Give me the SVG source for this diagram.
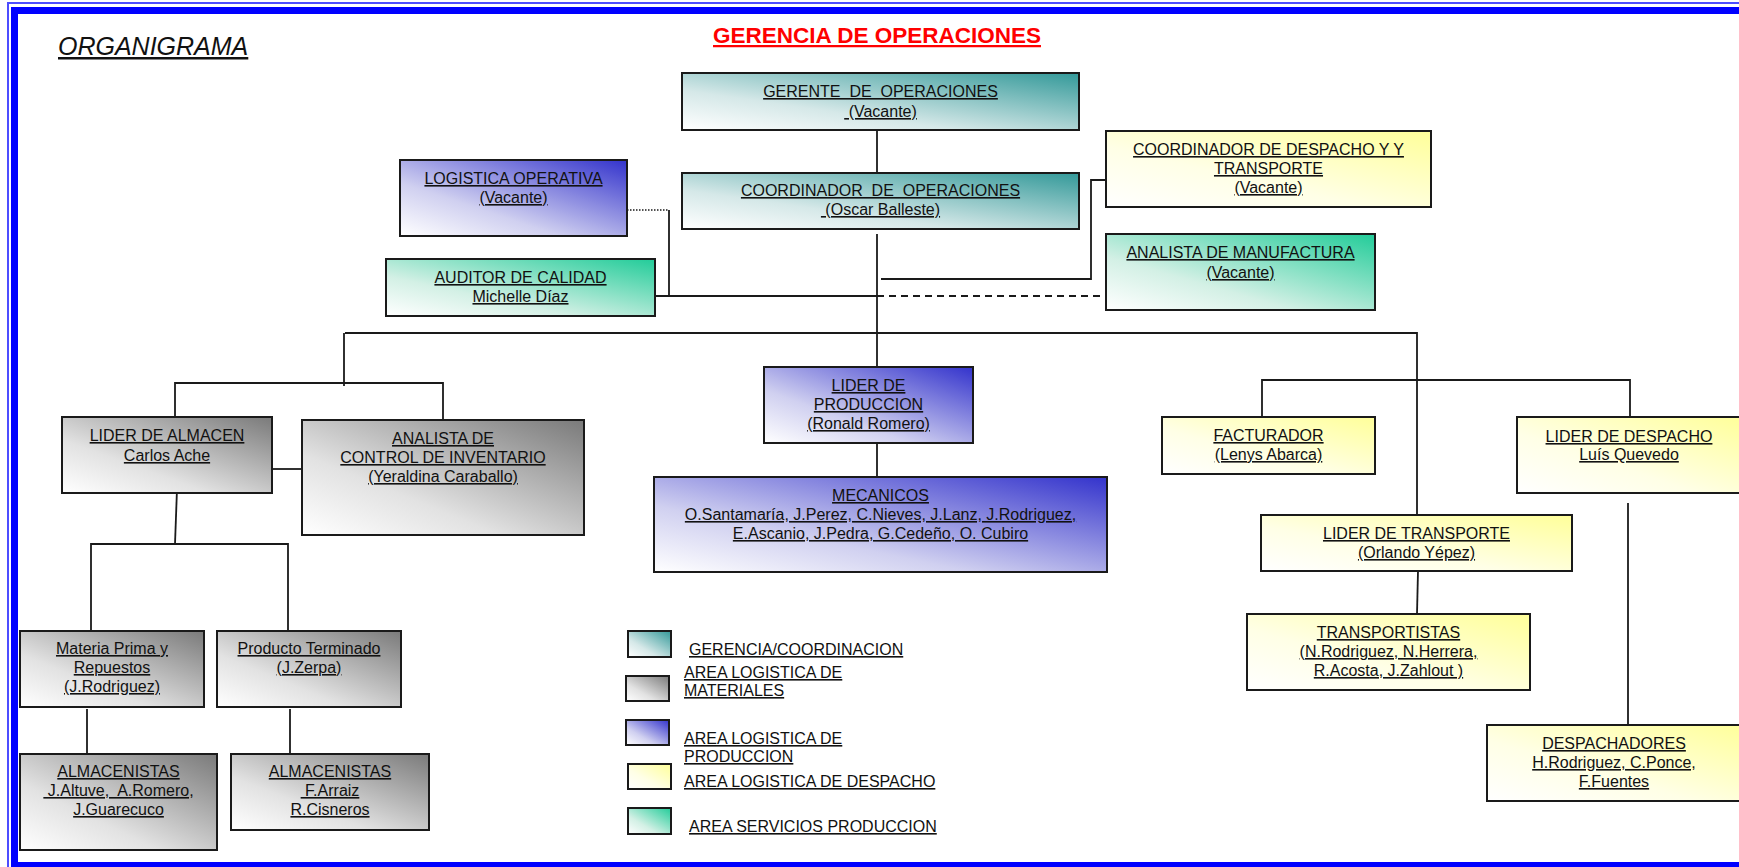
<svg xmlns="http://www.w3.org/2000/svg" width="1739" height="867" viewBox="0 0 1739 867" xml:space="preserve">
<defs>
<linearGradient id="gTeal" x1="0" y1="1" x2="1" y2="0"><stop offset="0" stop-color="#ffffff"/><stop offset="0.35" stop-color="#d5e8e8"/><stop offset="1" stop-color="#339999"/></linearGradient>
<linearGradient id="gGray" x1="0" y1="1" x2="1" y2="0"><stop offset="0" stop-color="#ffffff"/><stop offset="0.35" stop-color="#e2e2e2"/><stop offset="1" stop-color="#7a7a7a"/></linearGradient>
<linearGradient id="gBlue" x1="0" y1="1" x2="1" y2="0"><stop offset="0" stop-color="#ffffff"/><stop offset="0.35" stop-color="#d0d0f0"/><stop offset="1" stop-color="#3333cc"/></linearGradient>
<linearGradient id="gYel" x1="0" y1="1" x2="1" y2="0"><stop offset="0" stop-color="#ffffff"/><stop offset="0.4" stop-color="#ffffe6"/><stop offset="1" stop-color="#ffff99"/></linearGradient>
<linearGradient id="gGrn" x1="0" y1="1" x2="1" y2="0"><stop offset="0" stop-color="#ffffff"/><stop offset="0.35" stop-color="#d3f0e5"/><stop offset="1" stop-color="#22cc99"/></linearGradient>
</defs>
<style>
.box{stroke:#1a1a1a;stroke-width:2}
.teal{fill:url(#gTeal)} .gray{fill:url(#gGray)} .blue{fill:url(#gBlue)} .yel{fill:url(#gYel)} .grn{fill:url(#gGrn)}
.t{font-family:"Liberation Sans",Arial,sans-serif;font-size:16px;fill:#111;text-anchor:middle;text-decoration:underline;white-space:pre}
.lg{font-family:"Liberation Sans",Arial,sans-serif;font-size:16px;fill:#111;text-decoration:underline;white-space:pre}
.ln{stroke:#1a1a1a;stroke-width:1.8;fill:none}
.dash{stroke-dasharray:7 5}
.dot{stroke-dasharray:1.5 1.5;stroke-width:1.5}
</style>
<rect width="1739" height="867" fill="#ffffff"/>
<g id="frame" fill="none">
<rect x="8" y="3" width="1800" height="880" stroke="#4d4dff" stroke-width="2"/>
<rect x="14.5" y="10.5" width="1800" height="855" stroke="#0000ff" stroke-width="7"/>
</g>
<g id="titles">
<text x="58" y="55" font-family="Liberation Sans, Arial, sans-serif" font-size="25" font-style="italic" text-decoration="underline" fill="#111">ORGANIGRAMA</text>
<text x="877" y="43" font-family="Liberation Sans, Arial, sans-serif" font-size="22.5" font-weight="bold" text-anchor="middle" text-decoration="underline" fill="#ff0000">GERENCIA DE OPERACIONES</text>
</g>
<g id="connectors">
<path class="ln" d="M877 130V173"/>
<path class="ln" d="M877 234V367"/>
<path class="ln" d="M877 443V477"/>
<path class="ln dot" d="M627 210H669"/>
<path class="ln" d="M669 210V296"/>
<path class="ln" d="M655 296H877"/>
<path class="ln dash" d="M877 296H1106"/>
<path class="ln" d="M881 279H1091V180H1106"/>
<path class="ln" d="M345 333H1417V515"/>
<path class="ln" d="M344 333V386"/>
<path class="ln" d="M175 417V383H443V420"/>
<path class="ln" d="M272 469H302"/>
<path class="ln" d="M177 489L175 544"/>
<path class="ln" d="M91 631V544H288V631"/>
<path class="ln" d="M87 709V754"/>
<path class="ln" d="M290 709V754"/>
<path class="ln" d="M1262 417V380H1630V417"/>
<path class="ln" d="M1628 503V725"/>
<path class="ln" d="M1418 571L1417 614"/>
</g>
<g id="gerente"><rect class="box teal" x="682" y="73" width="397" height="57"/><text class="t" x="880.5" y="97">GERENTE  DE  OPERACIONES</text><text class="t" x="880.5" y="117"> (Vacante)</text></g>
<g id="coordinador"><rect class="box teal" x="682" y="173" width="397" height="56"/><text class="t" x="880.5" y="196">COORDINADOR  DE  OPERACIONES</text><text class="t" x="880.5" y="215"> (Oscar Balleste)</text></g>
<g id="logistica"><rect class="box blue" x="400" y="160" width="227" height="76"/><text class="t" x="513.5" y="184">LOGISTICA OPERATIVA</text><text class="t" x="513.5" y="203">(Vacante)</text></g>
<g id="auditor"><rect class="box grn" x="386" y="259" width="269" height="57"/><text class="t" x="520.5" y="283">AUDITOR DE CALIDAD</text><text class="t" x="520.5" y="302">Michelle Díaz</text></g>
<g id="coord-despacho"><rect class="box yel" x="1106" y="131" width="325" height="76"/><text class="t" x="1268.5" y="155">COORDINADOR DE DESPACHO Y Y</text><text class="t" x="1268.5" y="174">TRANSPORTE</text><text class="t" x="1268.5" y="193">(Vacante)</text></g>
<g id="analista-manufactura"><rect class="box grn" x="1106" y="234" width="269" height="76"/><text class="t" x="1240.5" y="258">ANALISTA DE MANUFACTURA</text><text class="t" x="1240.5" y="278">(Vacante)</text></g>
<g id="lider-almacen"><rect class="box gray" x="62" y="417" width="210" height="76"/><text class="t" x="167" y="441">LIDER DE ALMACEN</text><text class="t" x="167" y="461">Carlos Ache</text></g>
<g id="analista-inventario"><rect class="box gray" x="302" y="420" width="282" height="115"/><text class="t" x="443" y="444">ANALISTA DE</text><text class="t" x="443" y="463">CONTROL DE INVENTARIO</text><text class="t" x="443" y="482">(Yeraldina Caraballo)</text></g>
<g id="materia-prima"><rect class="box gray" x="20" y="631" width="184" height="76"/><text class="t" x="112" y="654">Materia Prima y</text><text class="t" x="112" y="673">Repuestos</text><text class="t" x="112" y="692">(J.Rodriguez)</text></g>
<g id="producto-terminado"><rect class="box gray" x="217" y="631" width="184" height="76"/><text class="t" x="309" y="654">Producto Terminado</text><text class="t" x="309" y="673">(J.Zerpa)</text></g>
<g id="almacenistas-1"><rect class="box gray" x="20" y="754" width="197" height="96"/><text class="t" x="118.5" y="777">ALMACENISTAS</text><text class="t" x="118.5" y="796"> J.Altuve,  A.Romero,</text><text class="t" x="118.5" y="815">J.Guarecuco</text></g>
<g id="almacenistas-2"><rect class="box gray" x="231" y="754" width="198" height="76"/><text class="t" x="330" y="777">ALMACENISTAS</text><text class="t" x="330" y="796"> F.Arraiz</text><text class="t" x="330" y="815">R.Cisneros</text></g>
<g id="lider-produccion"><rect class="box blue" x="764" y="367" width="209" height="76"/><text class="t" x="868.5" y="391">LIDER DE</text><text class="t" x="868.5" y="410">PRODUCCION</text><text class="t" x="868.5" y="429">(Ronald Romero)</text></g>
<g id="mecanicos"><rect class="box blue" x="654" y="477" width="453" height="95"/><text class="t" x="880.5" y="501">MECANICOS</text><text class="t" x="880.5" y="520">O.Santamaría, J.Perez, C.Nieves, J.Lanz, J.Rodriguez,</text><text class="t" x="880.5" y="539">E.Ascanio, J.Pedra, G.Cedeño, O. Cubiro</text></g>
<g id="facturador"><rect class="box yel" x="1162" y="417" width="213" height="57"/><text class="t" x="1268.5" y="441">FACTURADOR</text><text class="t" x="1268.5" y="460">(Lenys Abarca)</text></g>
<g id="lider-despacho"><rect class="box yel" x="1517" y="417" width="226" height="76"/><text class="t" x="1629" y="442">LIDER DE DESPACHO</text><text class="t" x="1629" y="460">Luís Quevedo</text></g>
<g id="lider-transporte"><rect class="box yel" x="1261" y="515" width="311" height="56"/><text class="t" x="1416.5" y="539">LIDER DE TRANSPORTE</text><text class="t" x="1416.5" y="558">(Orlando Yépez)</text></g>
<g id="transportistas"><rect class="box yel" x="1247" y="614" width="283" height="76"/><text class="t" x="1388.5" y="638">TRANSPORTISTAS</text><text class="t" x="1388.5" y="657">(N.Rodriguez, N.Herrera,</text><text class="t" x="1388.5" y="676">R.Acosta, J.Zahlout )</text></g>
<g id="despachadores"><rect class="box yel" x="1487" y="725" width="260" height="76"/><text class="t" x="1614" y="749">DESPACHADORES</text><text class="t" x="1614" y="768">H.Rodriguez, C.Ponce,</text><text class="t" x="1614" y="787">F.Fuentes</text></g>
<g id="legend">
<rect class="box teal" x="628" y="631" width="43" height="26" stroke-width="1.5"/><text class="lg" x="689" y="655">GERENCIA/COORDINACION</text>
<rect class="box gray" x="626" y="676" width="43" height="25" stroke-width="1.5"/><text class="lg" x="684" y="678">AREA LOGISTICA DE</text><text class="lg" x="684" y="696">MATERIALES</text>
<rect class="box blue" x="626" y="720" width="43" height="25" stroke-width="1.5"/><text class="lg" x="684" y="744">AREA LOGISTICA DE</text><text class="lg" x="684" y="762">PRODUCCION</text>
<rect class="box yel" x="628" y="764" width="43" height="25" stroke-width="1.5"/><text class="lg" x="684" y="787">AREA LOGISTICA DE DESPACHO</text>
<rect class="box grn" x="628" y="808" width="43" height="26" stroke-width="1.5"/><text class="lg" x="689" y="832">AREA SERVICIOS PRODUCCION</text>
</g>
</svg>
